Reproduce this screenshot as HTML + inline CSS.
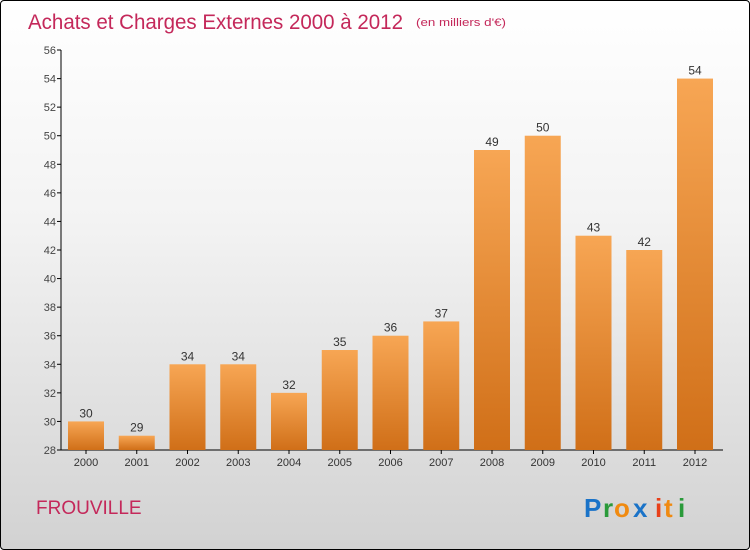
<!DOCTYPE html>
<html><head><meta charset="utf-8"><style>
body{margin:0}
#c{position:relative;width:748px;height:548px;border:1px solid #000;border-radius:4px;overflow:hidden;background:linear-gradient(#ffffff 0%,#f3f3f3 40%,#d2d2d2 100%);font-family:"Liberation Sans",sans-serif}
</style></head><body>
<div id="c">
<svg id="s" width="748" height="548" style="position:absolute;left:0;top:0">
<defs><linearGradient id="g" x1="0" y1="0" x2="0" y2="1"><stop offset="0" stop-color="#f7a654"/><stop offset="1" stop-color="#d06f18"/></linearGradient></defs>
<text x="27" y="28" font-size="21" textLength="375" lengthAdjust="spacingAndGlyphs" fill="#c4285a">Achats et Charges Externes 2000 à 2012</text>
<text x="415" y="25" font-size="11" textLength="90" lengthAdjust="spacingAndGlyphs" fill="#c4285a">(en milliers d'€)</text>
<text x="35" y="513" font-size="19" fill="#c4285a">FROUVILLE</text>
<g font-size="26" font-weight="bold" font-family="'Liberation Sans',sans-serif">
<text x="583" y="516" fill="#1a73c8">P</text><text x="602" y="516" fill="#2a9a3a">r</text><text x="613" y="516" fill="#f08a10">o</text><text x="632" y="516" fill="#1a73c8">x</text><text x="654" y="516" fill="#e8401a">i</text><text x="663" y="516" fill="#f08a10">t</text><text x="677" y="516" fill="#2a9a3a">i</text></g>
<g id="ax"></g><g id="bars"></g>
</svg></div>
<script>
const years=["2000","2001","2002","2003","2004","2005","2006","2007","2008","2009","2010","2011","2012"];
const values=[30,29,34,34,32,35,36,37,49,50,43,42,54];
const yTicks=[28,30,32,34,36,38,40,42,44,46,48,50,52,54,56];
const NS="http://www.w3.org/2000/svg";
const y0=449,y1=49,vmin=28,vmax=56;
function y(v){return y0-(v-vmin)/(vmax-vmin)*(y0-y1);}
function x(i){return 85+i*50.75;}
function mk(t,a,p){const e=document.createElementNS(NS,t);for(const k in a)e.setAttribute(k,a[k]);p.appendChild(e);return e;}
const ax=document.getElementById('ax'),bg=document.getElementById('bars');
const al=mk('line',{x1:60,y1:y1,x2:60,y2:y0,stroke:'#000'},ax);


const bl=mk('line',{x1:60,y1:y0,x2:722,y2:y0,stroke:'#000'},ax);


yTicks.forEach(v=>{
 const l=mk('line',{x1:56,y1:y(v),x2:60,y2:y(v),stroke:'#000'},ax);
 
 
 const t=mk('text',{x:55,y:y(v)+4,'text-anchor':'end','font-size':11,fill:'#444'},ax);
 t.textContent=v;
 
 
});
values.forEach((v,i)=>{
 const r=mk('rect',{x:x(i)-18,y:y(v),width:36,height:y0-y(v),fill:'url(#g)'},bg);
 
 
 const t=mk('text',{x:x(i),y:y(v)-4,'text-anchor':'middle','font-size':12,fill:'#333'},bg);
 t.textContent=v;
 
 
 const tk=mk('line',{x1:x(i),y1:y0,x2:x(i),y2:y0+4,stroke:'#000'},ax);
 
 
 const xl=mk('text',{x:x(i),y:y0+16,'text-anchor':'middle','font-size':11,fill:'#333'},ax);
 xl.textContent=years[i];
 
 
});
</script>
</body></html>
